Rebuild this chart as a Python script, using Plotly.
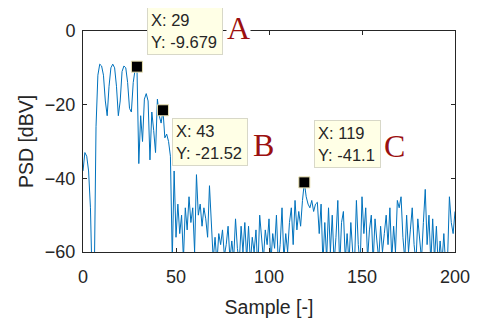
import plotly.graph_objects as go

sample = list(range(0, 201))
psd = [
    -38, -33, -34, -38, -48, -70, -70, -26, -12, -9,
    -9.5, -12, -19, -23, -15, -10, -9, -10, -15, -23,
    -19, -11, -9.5, -10, -14, -21, -22, -14, -10.5, -9.679,
    -36, -23, -30, -18.5, -17, -19, -35, -22, -27, -33,
    -18.5, -23, -25, -21.52, -29, -28, -30, -34, -62, -38,
    -56, -47, -55, -50, -62, -48, -54, -45, -52, -48,
    -60, -39, -50, -47, -53, -48, -51, -56, -42, -54,
    -62, -56, -63, -55, -58, -54, -61, -58, -53, -62,
    -57, -62, -51, -59, -63, -53, -60, -52, -62, -53,
    -63, -56, -60, -54, -65, -50, -58, -62, -54, -58,
    -51, -63, -55, -59, -50, -63, -58, -48, -62, -55,
    -60, -52, -48, -58, -46, -54, -49, -53, -46, -41.1,
    -45, -47, -48, -46, -49, -47, -46.5, -55, -47, -63,
    -52, -62, -48, -60, -50, -63, -56, -46, -64, -52,
    -49, -62, -55, -63, -52, -60, -63, -46, -58, -64,
    -45, -55, -48, -62, -54, -50, -63, -51, -57, -62,
    -53, -60, -55, -50, -58, -48, -62, -53, -60, -46,
    -48, -45, -56, -62, -50, -60, -54, -48, -58, -63,
    -51, -56, -62, -52, -43, -58, -50, -63, -51, -62,
    -53, -64, -57, -63, -55, -64, -62, -45, -52, -55,
    -49,
]

tip_x = [29, 43, 119]
tip_y = [-9.679, -21.52, -41.1]
tip_labels = ["X: 29<br>Y: -9.679", "X: 43<br>Y: -21.52", "X: 119<br>Y: -41.1"]
# box anchor (x, y, yanchor, text width)
box_pos = [(34.2, -6.5, "bottom", 68), (47.7, -23.7, "top", 68), (124.0, -24.2, "top", 59)]
letters = ["A", "B", "C"]
# letter anchor (x, y, pixel shift up)
letter_pos = [(83.7, -0.5, 4.5), (96.9, -30.9, 0), (167.7, -31.2, 0)]

FONT = "Arial, Liberation Sans, sans-serif"

fig = go.Figure()
fig.add_trace(go.Scatter(x=sample, y=psd, mode="lines",
                         line=dict(color="#0072BD", width=1), showlegend=False,
                         hoverinfo="skip"))
fig.add_trace(go.Scatter(x=tip_x, y=tip_y, mode="markers",
                         marker=dict(symbol="square", size=11, color="black",
                                     line=dict(color="#e8e0b0", width=1)),
                         showlegend=False, cliponaxis=False, hoverinfo="skip"))

for (bx, by, ya, w), t in zip(box_pos, tip_labels):
    fig.add_annotation(x=bx, y=by, xref="x", yref="y", text=t, showarrow=False,
                       xanchor="left", yanchor=ya, align="left", valign="middle",
                       width=w, height=40,
                       font=dict(family=FONT, size=16.5, color="#262626"),
                       bgcolor="#FFFFE6", bordercolor="#d8d8c8", borderwidth=1,
                       borderpad=3)
for (lx, ly, ys), L in zip(letter_pos, letters):
    fig.add_annotation(x=lx, y=ly, yshift=ys, xref="x", yref="y", text=L, showarrow=False,
                       xanchor="center", yanchor="middle",
                       font=dict(family="Liberation Serif, Times New Roman, serif", size=32,
                                 color="#9B1010"),
                       bgcolor="white", borderpad=0)

axis_common = dict(showline=True, linecolor="#262626", linewidth=1, mirror="ticks",
                   ticks="inside", ticklen=4, tickcolor="#262626", showgrid=False,
                   zeroline=False, automargin=False,
                   tickfont=dict(family=FONT, size=18, color="#262626"),
                   title_font=dict(family=FONT, size=19.5, color="#262626"))

fig.update_layout(
    width=471, height=312,
    margin=dict(l=75, r=24, t=23, b=68),
    paper_bgcolor="white", plot_bgcolor="white",
    xaxis=dict(range=[0, 200], tickvals=[0, 50, 100, 150, 200], ticklabelstandoff=8,
               title=dict(text="Sample [-]", standoff=14), **axis_common),
    yaxis=dict(range=[-60, 0], tickvals=[-60, -40, -20, 0], ticklabelstandoff=3,
               title=dict(text="PSD [dBV]", standoff=6), **axis_common),
)

fig.write_html("out.html")
